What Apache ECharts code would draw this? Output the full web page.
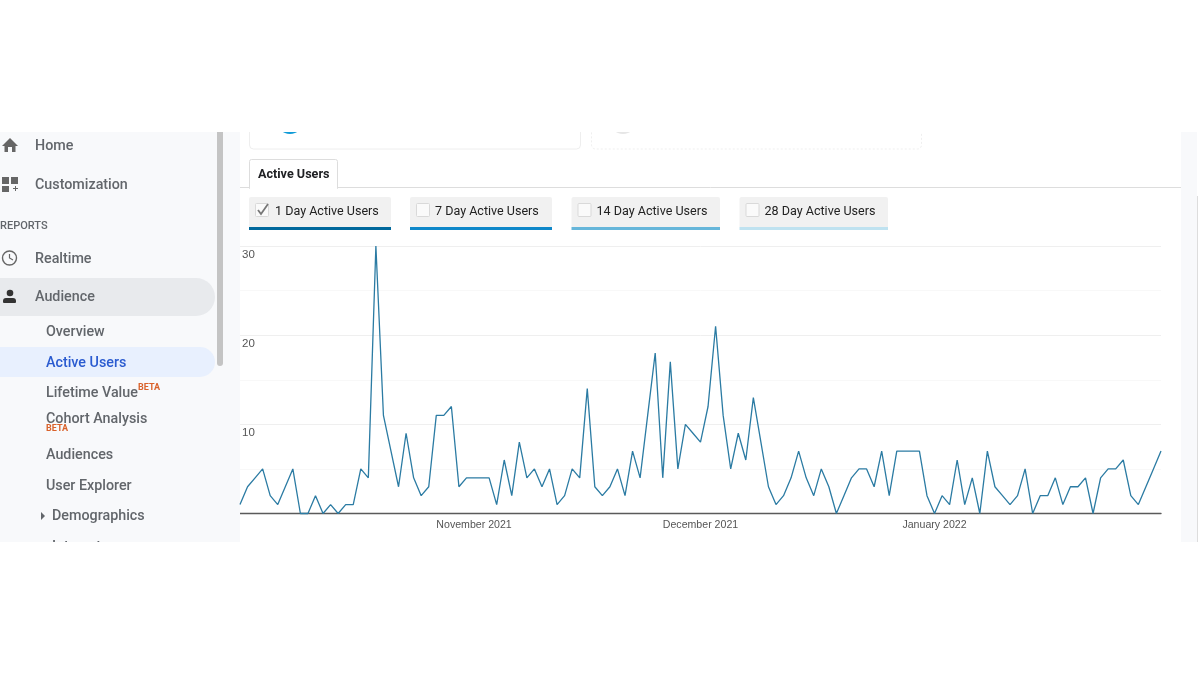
<!DOCTYPE html>
<html>
<head>
<meta charset="utf-8">
<title>Active Users</title>
<script src="https://cdn.jsdelivr.net/npm/echarts@6/dist/echarts.min.js"></script>
<style>
  html, body { margin: 0; padding: 0; background: #fff; }
  #chart { width: 1200px; height: 675px; }
</style>
</head>
<body>
<div id="chart"></div>
<script>
// Daily active users, 1 Oct 2021 to 31 Jan 2022
const startDate = '2021-10-01';
const oneDayActiveUsers = [
  1, 3, 4, 5, 2, 1, 3, 5, 0, 0,
  2, 0, 1, 0, 1, 1, 5, 4, 30, 11,
  7, 3, 9, 4, 2, 3, 11, 11, 12, 3,
  4, 4, 4, 4, 1, 6, 2, 8, 4, 5,
  3, 5, 1, 2, 5, 4, 14, 3, 2, 3,
  5, 2, 7, 4, 11, 18, 4, 17, 5, 10,
  9, 8, 12, 21, 11, 5, 9, 6, 13, 8,
  3, 1, 2, 4, 7, 4, 2, 5, 3, 0,
  2, 4, 5, 5, 3, 7, 2, 7, 7, 7,
  7, 2, 0, 2, 1, 6, 1, 4, 0, 7,
  3, 2, 1, 2, 5, 0, 2, 2, 4, 1,
  3, 3, 4, 0, 4, 5, 5, 6, 2, 1,
  3, 5, 7
];
const monthTicks = ['2021-11-01', '2021-12-01', '2022-01-01'];
const monthLabels = ['November 2021', 'December 2021', 'January 2022'];
const valueTicks = [10, 20, 30];
const metricNames = ['1 Day Active Users', '7 Day Active Users', '14 Day Active Users', '28 Day Active Users'];

const dates = oneDayActiveUsers.map((_, i) => {
  const d = new Date(startDate + 'T00:00:00Z');
  d.setUTCDate(d.getUTCDate() + i);
  return d.toISOString().slice(0, 10);
});

const UI_FONT = 'Roboto, "Noto Sans", sans-serif';
const GREY = '#62666b';
const NAV_SIZE = 14.3;

const text = (str, x, y, size, fill, weight, extra) => ({
  type: 'text', z: 5,
  style: Object.assign({
    text: str, x, y, fill,
    font: (weight || 400) + ' ' + size + 'px ' + UI_FONT,
    textAlign: 'left', textVerticalAlign: 'middle', verticalAlign: 'middle'
  }, extra || {})
});
const rect = (x, y, width, height, fill, r, z, stroke, dash) => ({
  type: 'rect', z: z || 1,
  shape: { x, y, width, height, r: r || 0 },
  style: { fill, stroke: stroke || 'none', lineWidth: stroke ? 1 : 0, lineDash: dash || null }
});
const poly = (points, fill) => ({ type: 'polygon', z: 5, shape: { points }, style: { fill } });

// Report navigation down the left side
const navPanel = [
  rect(0, 132, 240, 410, '#f8f9fb'),
  rect(0, 278, 215, 38, '#e8eaed', [0, 19, 19, 0], 2),
  rect(0, 347, 215, 30, '#e8f0fe', [0, 15, 15, 0], 2),
  rect(217, 132, 6, 234, '#c4c4c4', [0, 0, 3, 3], 2),
  text('Home', 35, 146, NAV_SIZE, GREY, 500),
  text('Customization', 35, 185, NAV_SIZE, GREY, 500),
  text('REPORTS', 0, 226, 11, GREY, 500),
  text('Realtime', 35, 259, NAV_SIZE, GREY, 500),
  text('Audience', 35, 297, NAV_SIZE, GREY, 500),
  text('Overview', 46, 332, NAV_SIZE, GREY, 500),
  text('Active Users', 46, 363, NAV_SIZE, '#2a5bd0', 500),
  text('Lifetime Value', 46, 393, NAV_SIZE, GREY, 500),
  text('BETA', 138, 387.5, 9, '#d9622b', 700),
  text('Cohort Analysis', 46, 419, NAV_SIZE, GREY, 500),
  text('BETA', 46, 429, 9, '#d9622b', 700),
  text('Audiences', 46, 455, NAV_SIZE, GREY, 500),
  text('User Explorer', 46, 486, NAV_SIZE, GREY, 500),
  text('Demographics', 52, 516, NAV_SIZE, GREY, 500),
  text('Interests', 52, 547, NAV_SIZE, GREY, 500),
  poly([[41, 512], [45, 516], [41, 520]], GREY),
  // home
  poly([[10, 138], [18, 146], [15.5, 146], [15.5, 152], [12, 152], [12, 147], [8, 147], [8, 152], [4.5, 152], [4.5, 146], [2, 146]], '#666'),
  // customization
  rect(2, 177, 7, 7, '#666', 0, 5), rect(11, 177, 7, 7, '#666', 0, 5), rect(2, 186, 7, 6, '#666', 0, 5),
  rect(13, 188, 5, 1, '#666', 0, 5), rect(15, 186, 1, 5, '#666', 0, 5),
  // clock
  { type: 'circle', z: 5, shape: { cx: 9.5, cy: 258, r: 7 }, style: { fill: 'none', stroke: '#666', lineWidth: 1.4 } },
  { type: 'polyline', z: 5, shape: { points: [[9.5, 254], [9.5, 258], [13, 260]] }, style: { fill: 'none', stroke: '#666', lineWidth: 1.2 } },
  // person
  { type: 'circle', z: 5, shape: { cx: 10, cy: 293, r: 3.3 }, style: { fill: '#333' } },
  rect(3, 298, 13, 5, '#333', [3, 3, 1, 1], 5)
];

// Overview cards that run off the top of the panel, and the tab strip below them
const cardsAndTab = [
  rect(249.5, 110, 331, 39, '#fff', 4, 1, '#eeeeee'),
  { type: 'circle', z: 2, shape: { cx: 290, cy: 121, r: 13 }, style: { fill: '#0f9bd7' } },
  rect(591.5, 110, 330, 39, '#fff', 4, 1, '#efefef', [2, 2]),
  { type: 'circle', z: 2, shape: { cx: 623, cy: 121, r: 13 }, style: { fill: '#e6e6e6' } },
  { type: 'line', z: 1, shape: { x1: 240, y1: 187.5, x2: 1181, y2: 187.5 }, style: { stroke: '#dddddd', lineWidth: 1 } },
  rect(249.5, 159.5, 88, 29, '#fff', [2, 2, 0, 0], 2, '#dddddd'),
  rect(250, 186, 87, 3, '#fff', 0, 3),
  text('Active Users', 258, 174.5, 12.6, '#202124', 700)
];

// Metric selector chips above the plot
const chipBoxes = [[249, 142], [410, 142], [571.5, 148.5], [739.5, 148.5]];
const chipColors = ['#00689c', '#0f87c9', '#66b6da', '#bfe2f0'];
const chips = metricNames.flatMap((name, i) => {
  const [x, w] = chipBoxes[i];
  const parts = [
    rect(x, 197, w, 30, '#f1f1f1', [2, 2, 0, 0], 2),
    rect(x, 227, w, 3, chipColors[i], 0, 2),
    rect(x + 6.5, 203.5, 13, 13, '#fafafa', 1, 3, '#d9d9d9'),
    text(name, x + (i === 0 ? 26 : 25), 211.5, 12.55, '#222222', 400)
  ];
  if (i === 0) {
    parts.push({ type: 'polyline', z: 4, shape: { points: [[x + 9, 210], [x + 12, 214], [x + 19, 204]] },
      style: { fill: 'none', stroke: '#777', lineWidth: 1.8 } });
  }
  return parts;
});

// Scroll rail on the right and white bands that trim the panel top and bottom
const frame = [
  rect(1181, 132, 16, 410, '#f8f9fb'),
  rect(1197, 196, 1, 346, '#dddddd'),
  rect(0, 0, 1200, 132, '#ffffff', 0, 10),
  rect(0, 542, 1200, 133, '#ffffff', 0, 10)
];

const chart = echarts.init(document.getElementById('chart'), null, { renderer: 'canvas' });
chart.setOption({
  animation: false,
  backgroundColor: '#ffffff',
  grid: { left: 240, right: 39, top: 246, bottom: 161.5, containLabel: false },
  xAxis: {
    type: 'category',
    data: dates,
    boundaryGap: false,
    axisLine: { lineStyle: { color: '#5a5a5a', width: 1.4 } },
    axisTick: { show: false },
    splitLine: { show: false },
    axisLabel: {
      interval: (i, v) => monthTicks.includes(v),
      formatter: v => monthLabels[monthTicks.indexOf(v)] || '',
      color: '#555555',
      fontFamily: '"Liberation Sans", Arial, sans-serif',
      fontSize: 10.6,
      margin: 6
    }
  },
  yAxis: {
    type: 'value',
    min: 0, max: 30, interval: 10,
    axisLine: { show: false },
    axisTick: { show: false },
    minorTick: { show: false, splitNumber: 2 },
    splitLine: { show: true, lineStyle: { color: '#efefef', width: 1 } },
    minorSplitLine: { show: true, lineStyle: { color: '#f8f8f8', width: 1 } },
    axisLabel: {
      inside: true,
      margin: 2,
      verticalAlign: 'top',
      padding: [2.5, 0, 0, 0],
      color: '#555555',
      fontFamily: '"Liberation Sans", Arial, sans-serif',
      fontSize: 11.5,
      formatter: v => valueTicks.includes(v) ? String(v) : ''
    }
  },
  series: [{
    name: metricNames[0],
    type: 'line',
    data: oneDayActiveUsers,
    symbol: 'none',
    clip: false,
    lineStyle: { color: '#2b7ba3', width: 1.3 }
  }],
  graphic: { elements: [...navPanel, ...cardsAndTab, ...chips, ...frame] }
});
</script>
</body>
</html>
